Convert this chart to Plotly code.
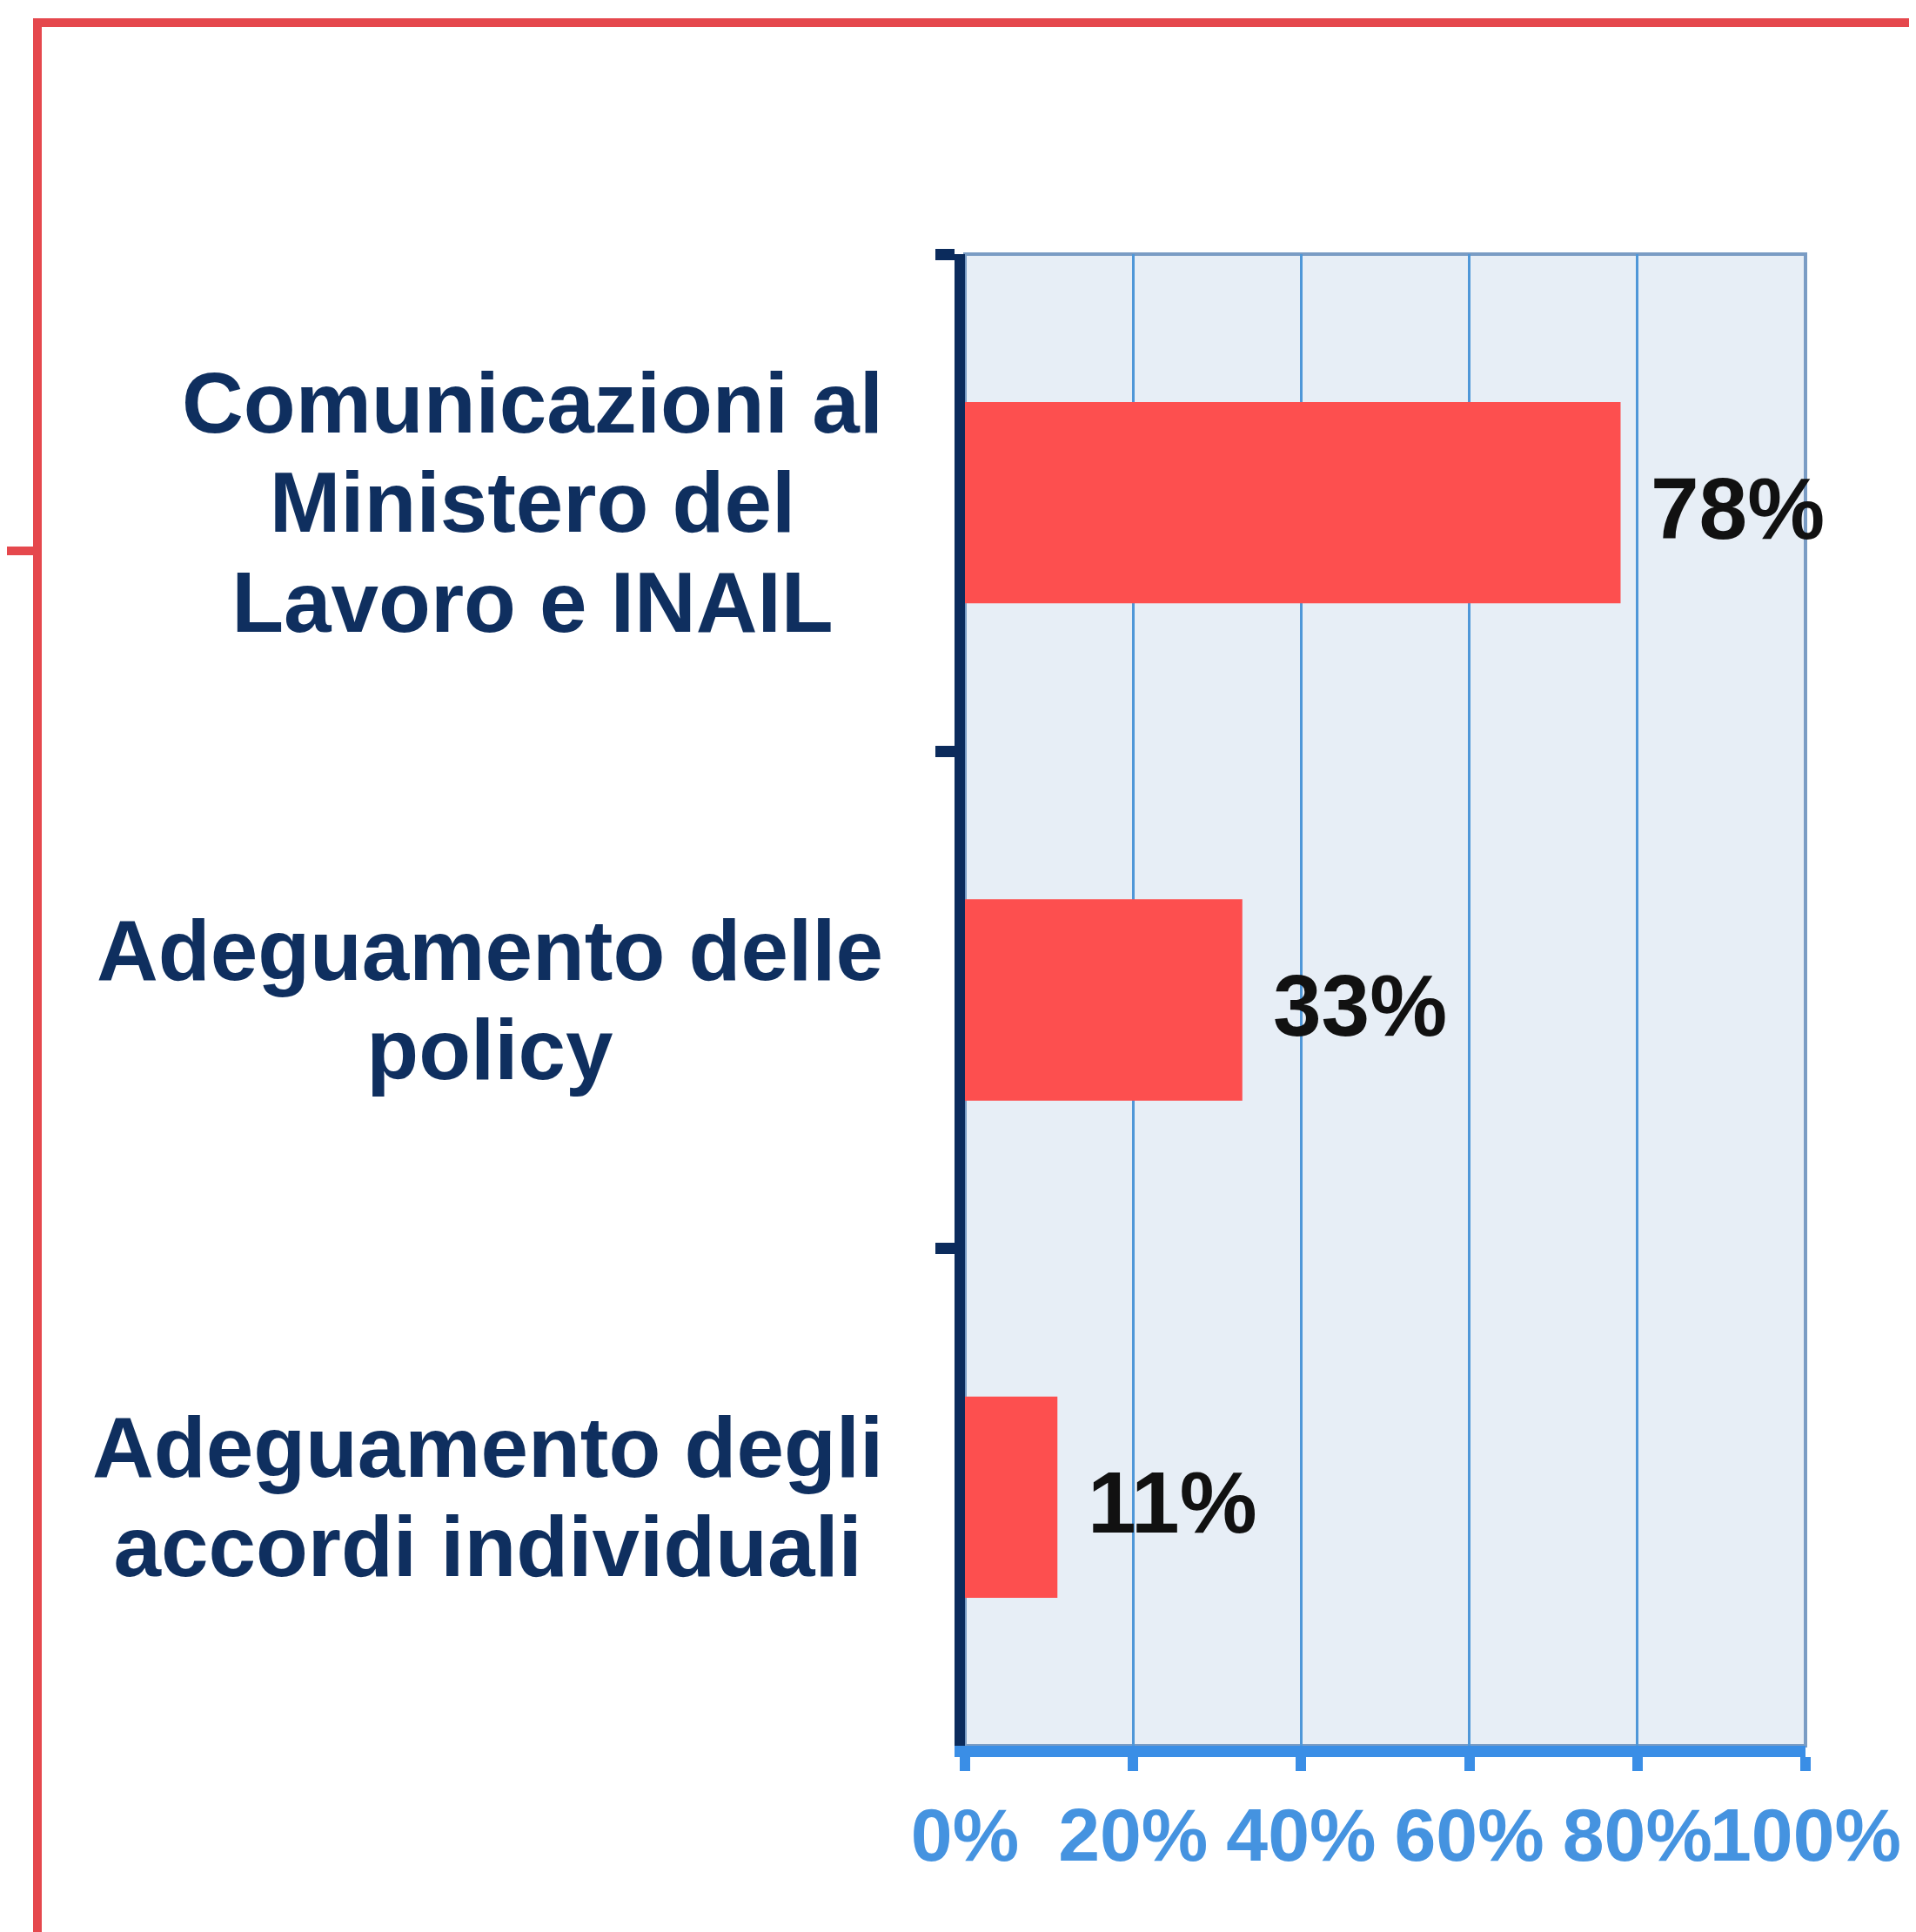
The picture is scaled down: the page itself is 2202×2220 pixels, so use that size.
import plotly.graph_objects as go

# ---- data ----
categories = [
    "Comunicazioni al<br>Ministero del<br>Lavoro e INAIL",
    "Adeguamento delle<br>policy",
    "Adeguamento degli<br>accordi individuali",
]
values = [78, 33, 11]
x_tickvals = [0, 20, 40, 60, 80, 100]
x_ticktext = ["0%", "20%", "40%", "60%", "80%", "100%"]

# ---- layout constants ----
W, H = 2202, 2220
OFF = 8  # default page body margin shifts the figure by this much
L, R, T, B = 1101, 135, 284, 222
PW, PH = W - L - R, H - T - B

def px_x(px):
    # page x-pixel -> paper fraction
    return (px - OFF - L) / PW

def px_y(py):
    # page y-pixel -> paper fraction
    return (H - B - (py - OFF)) / PH

NAVY = "#0F2F5F"
AXIS_NAVY = "#0B2B5C"
BAR_RED = "#FD4F4F"
FRAME_RED = "#E5484D"
LIGHT_BLUE = "#3A8EE6"
TICK_BLUE = "#4593E0"
GRID_BLUE = "#4F97D8"
FONT = "Liberation Sans, Arial, sans-serif"

fig = go.Figure()
fig.add_trace(go.Bar(
    x=values,
    y=categories,
    orientation="h",
    marker=dict(color=BAR_RED, line=dict(width=0)),
    hoverinfo="skip",
))

def big_lines(label, px):
    return "<br>".join(f'<span style="font-size:{px}px">{ln}</span>' for ln in label.split("<br>"))

annotations = []
for cat in categories:
    annotations.append(dict(
        xref="paper", yref="y", x=0, y=cat,
        xanchor="right", yanchor="middle", xshift=-92,
        text=big_lines(cat, 98), showarrow=False, align="center",
        font=dict(family=FONT, size=88, color=NAVY, weight="bold"),
    ))
for cat, v in zip(categories, values):
    annotations.append(dict(
        xref="x", yref="y", x=v, y=cat,
        xanchor="left", yanchor="middle", xshift=33, yshift=-6,
        text=f"{v}%", showarrow=False,
        font=dict(family=FONT, size=100, color="#111111", weight="bold"),
    ))

shapes = [
    # plot border (top / right)
    dict(type="rect", xref="paper", yref="paper", x0=0, x1=1, y0=0, y1=1,
         line=dict(color="#7A9CC4", width=4), fillcolor="rgba(0,0,0,0)", layer="below"),
    # red frame
    dict(type="line", xref="paper", yref="paper", x0=px_x(43), x1=px_x(43),
         y0=px_y(21), y1=px_y(2240), line=dict(color=FRAME_RED, width=10)),
    dict(type="line", xref="paper", yref="paper", x0=px_x(38), x1=px_x(2230),
         y0=px_y(26), y1=px_y(26), line=dict(color=FRAME_RED, width=10)),
    dict(type="line", xref="paper", yref="paper", x0=px_x(-10), x1=px_x(43),
         y0=px_y(633), y1=px_y(633), line=dict(color=FRAME_RED, width=10)),
]

fig.update_layout(
    width=W, height=H,
    margin=dict(l=L, r=R, t=T, b=B, pad=0, autoexpand=False),
    paper_bgcolor="white",
    plot_bgcolor="#E7EEF6",
    showlegend=False,
    bargap=0.595,
    annotations=annotations,
    shapes=shapes,
    xaxis=dict(
        range=[0, 100],
        tickvals=x_tickvals, ticktext=x_ticktext,
        tickangle=0, automargin=False,
        showgrid=True, gridcolor=GRID_BLUE, gridwidth=2.5,
        zeroline=False,
        showline=True, linecolor=LIGHT_BLUE, linewidth=13,
        ticks="outside", ticklen=16, tickwidth=12, tickcolor=LIGHT_BLUE,
        tickfont=dict(family=FONT, size=86, color=TICK_BLUE, weight="bold"),
        ticklabelstandoff=0,
        fixedrange=True,
    ),
    yaxis=dict(
        type="category",
        categoryorder="array", categoryarray=categories,
        range=[2.5, -0.5], automargin=False,
        showgrid=False, zeroline=False,
        showline=True, linecolor=AXIS_NAVY, linewidth=12,
        ticks="outside", tickson="boundaries", ticklen=22, tickwidth=13,
        tickcolor=AXIS_NAVY,
        showticklabels=False,
        fixedrange=True,
    ),
)

fig.write_html("out.html")
